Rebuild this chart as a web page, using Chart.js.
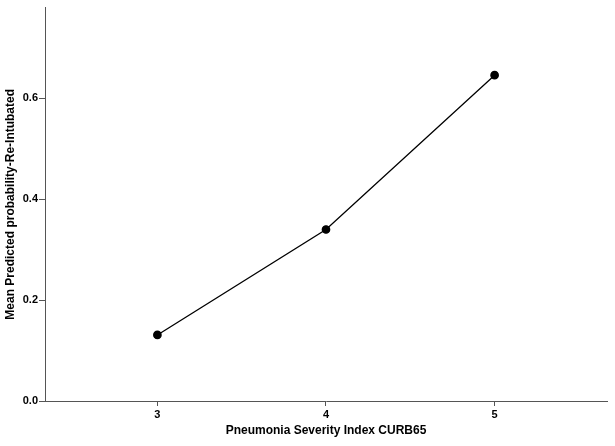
<!DOCTYPE html>
<html>
<head>
<meta charset="utf-8">
<script src="https://cdn.jsdelivr.net/npm/chart.js@4.4.0/dist/chart.umd.min.js"></script>
<style>
html,body{margin:0;padding:0;background:#fff;}
#wrap{width:615px;height:446px;position:relative;}
</style>
</head>
<body>
<div id="wrap"><canvas id="c" width="615" height="446"></canvas></div>
<script>
const categories = [3, 4, 5];
const meanProbability = [0.131, 0.340, 0.646];
const yTickValues = [0, 0.2, 0.4, 0.6];
const xTickValues = [3, 4, 5];

const points = categories.map((c, i) => ({x: c, y: meanProbability[i]}));
const font = {family: '"Liberation Sans", Arial, sans-serif', weight: 'bold', size: 11};
const titleFont = {family: '"Liberation Sans", Arial, sans-serif', weight: 'bold', size: 12};

new Chart(document.getElementById('c'), {
  type: 'line',
  data: {
    datasets: [{
      data: points,
      borderColor: '#000',
      borderWidth: 1.3,
      pointBackgroundColor: '#000',
      pointBorderColor: '#000',
      pointRadius: 3.7,
      tension: 0
    }]
  },
  options: {
    responsive: false,
    animation: false,
    layout: {padding: {top: 7, right: 8, left: 0, bottom: 0}},
    plugins: {legend: {display: false}, tooltip: {enabled: false}},
    scales: {
      x: {
        type: 'linear',
        min: 7/3,
        max: 17/3,
        afterBuildTicks: s => { s.ticks = xTickValues.map(v => ({value: v})); },
        afterFit: s => { s.height = 45; },
        grid: {drawOnChartArea: false, drawTicks: true, tickLength: 5, color: '#555', tickWidth: 1},
        border: {color: '#555', width: 1},
        ticks: {color: '#000', font: font, padding: 2, callback: v => String(v)},
        title: {display: true, text: 'Pneumonia Severity Index CURB65', color: '#000', font: titleFont, padding: {top: 4, bottom: 8}}
      },
      y: {
        type: 'linear',
        min: 0,
        max: 0.78,
        afterBuildTicks: s => { s.ticks = yTickValues.map(v => ({value: v})); },
        afterFit: s => { s.width = 45; },
        grid: {drawOnChartArea: false, drawTicks: true, tickLength: 6, color: '#555', tickWidth: 1},
        border: {color: '#555', width: 1},
        ticks: {color: '#000', font: font, padding: 1, callback: v => Number(v).toFixed(1)},
        title: {display: true, text: 'Mean Predicted probability-Re-Intubated', color: '#000', font: titleFont, padding: {top: 3, bottom: 0}}
      }
    }
  }
});
</script>
</body>
</html>
